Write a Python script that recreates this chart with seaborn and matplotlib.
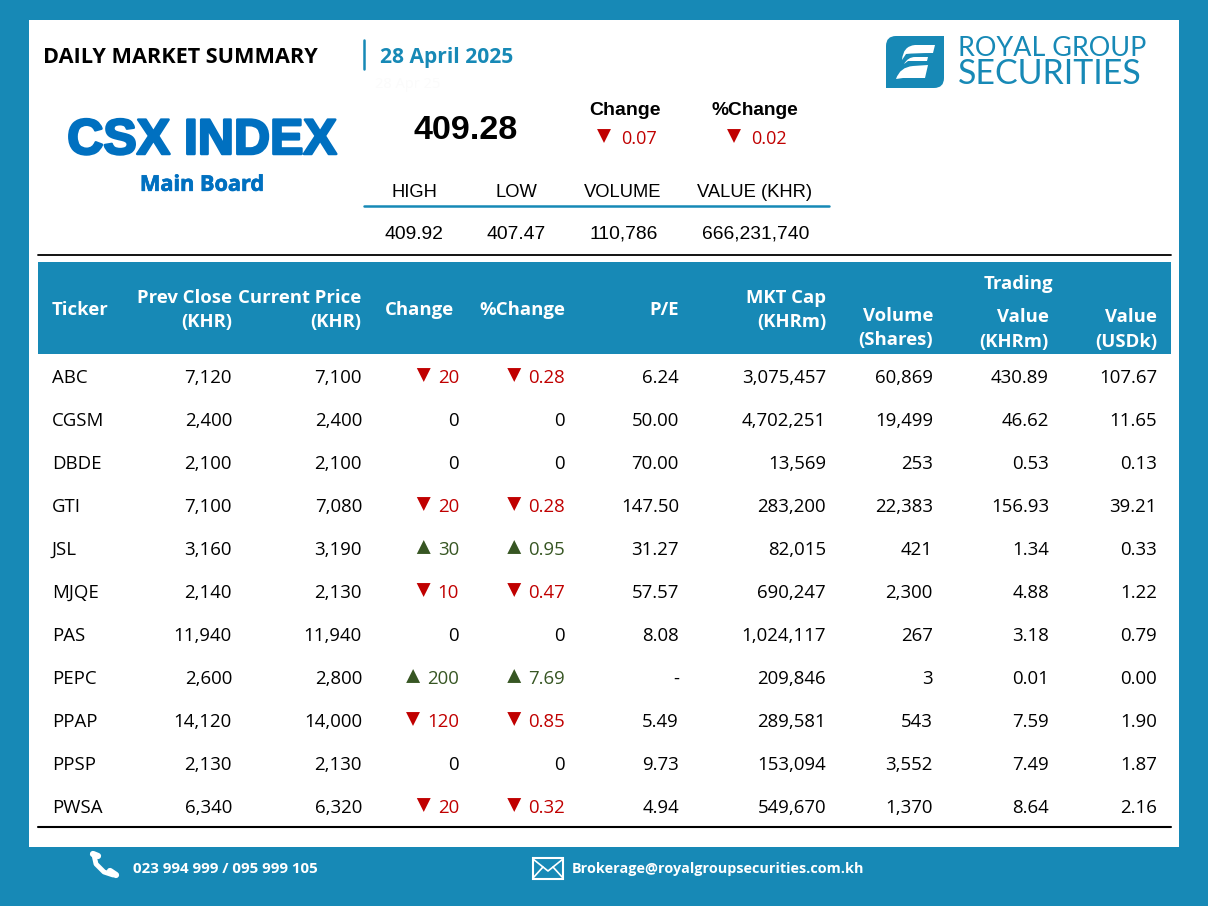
import seaborn as sns
import pandas as pd
import matplotlib.pyplot as plt
import matplotlib.patheffects as pe
from matplotlib.patches import Rectangle, PathPatch
from matplotlib.path import Path

tickers = ["ABC", "CGSM", "DBDE", "GTI", "JSL", "MJQE", "PAS", "PEPC", "PPAP", "PPSP", "PWSA"]
prev_close = ["7,120", "2,400", "2,100", "7,100", "3,160", "2,140", "11,940", "2,600", "14,120", "2,130", "6,340"]
current_price = ["7,100", "2,400", "2,100", "7,080", "3,190", "2,130", "11,940", "2,800", "14,000", "2,130", "6,320"]
change = ["20", "0", "0", "20", "30", "10", "0", "200", "120", "0", "20"]
pct_change = ["0.28", "0", "0", "0.28", "0.95", "0.47", "0", "7.69", "0.85", "0", "0.32"]
direction = ["down", "", "", "down", "up", "down", "", "up", "down", "", "down"]
pe_ratio = ["6.24", "50.00", "70.00", "147.50", "31.27", "57.57", "8.08", "-", "5.49", "9.73", "4.94"]
mkt_cap = ["3,075,457", "4,702,251", "13,569", "283,200", "82,015", "690,247", "1,024,117", "209,846", "289,581", "153,094", "549,670"]
volume = ["60,869", "19,499", "253", "22,383", "421", "2,300", "267", "3", "543", "3,552", "1,370"]
value_khr = ["430.89", "46.62", "0.53", "156.93", "1.34", "4.88", "3.18", "0.01", "7.59", "7.49", "8.64"]
value_usd = ["107.67", "11.65", "0.13", "39.21", "0.33", "1.22", "0.79", "0.00", "1.90", "1.87", "2.16"]

summary_labels = ["HIGH", "LOW", "VOLUME", "VALUE (KHR)"]
summary_values = ["409.92", "407.47", "110,786", "666,231,740"]
index_value = "409.28"
index_change = "0.07"
index_pct = "0.02"

BLUE = "#1789B6"
CSX = "#0070C0"
RED = "#C00000"
GREEN = "#375623"
BODY = "Open Sans"
ARIAL = "Liberation Sans"

sns.set_theme(style="white")
fig = plt.figure(figsize=(12.08, 9.06), dpi=100, facecolor=BLUE)
ax = fig.add_axes([0, 0, 1, 1])
ax.set_xlim(0, 1208)
ax.set_ylim(906, 0)
ax.axis("off")
ax.add_patch(Rectangle((29, 20), 1150, 827, fc="white", ec="none", zorder=0))
ax.add_patch(Rectangle((38, 262), 1133, 92, fc=BLUE, ec="none", zorder=1))


def put(x, y, s, size=13.4, color="black", ha="right", weight="normal", family=BODY, **kw):
    # y is the middle of the capitals, so commas and brackets do not shift a line
    return ax.text(x, y + 0.36 * size * 100 / 72, s, fontsize=size, color=color, ha=ha, va="baseline",
                   fontweight=weight, family=family, zorder=3, **kw)


# title block
put(43, 55, "DAILY MARKET SUMMARY", 15.6, ha="left", weight="bold")
ax.plot([364, 364], [40, 69], color=BLUE, lw=1.8)
put(380, 55, "28 April 2025", 15.1, BLUE, ha="left", weight="bold")
put(375, 83, "28 Apr 25", 10.5, "#FBFBFB", ha="left")
put(202, 136, "CSX INDEX", 36, CSX, ha="center", weight="bold", family=ARIAL,
    path_effects=[pe.withStroke(linewidth=1.8, foreground=CSX)])
put(202, 183, "Main Board", 15.6, CSX, ha="center", weight="bold",
    path_effects=[pe.withStroke(linewidth=0.5, foreground=CSX)])
put(466, 127, index_value, 24.6, ha="center", weight="bold", family=ARIAL)
put(625, 108, "Change", 14, ha="center", weight="bold", family=ARIAL)
put(755, 108, "%Change", 13.8, ha="center", weight="bold", family=ARIAL)
put(657, 137, index_change, 13, RED)
put(787, 137, index_pct, 13, RED)

for cx, lab, val in zip([414, 516, 623, 755], summary_labels, summary_values):
    put(cx, 190, lab, 13.2, ha="center", family=ARIAL)
    put(cx + (1 if lab in ("VOLUME", "VALUE (KHR)") else 0), 232, val, 13.9, ha="center", family=ARIAL)
ax.plot([364, 829], [206, 206], color=BLUE, lw=1.8)
ax.plot([38, 1171], [255, 255], color="black", lw=1.3)
ax.plot([38, 1171], [827, 827], color="black", lw=1.5)

# table header
head = dict(size=13.3, color="white", weight="bold")
put(52, 308, "Ticker", ha="left", **head)
put(232, 296, "Prev Close", **head)
put(232, 320, "(KHR)", **head)
put(361, 296, "Current Price", **head)
put(361, 320, "(KHR)", **head)
put(454, 308, "Change", **head)
put(565, 308, "%Change", **head)
put(679, 308, "P/E", **head)
put(826, 296, "MKT Cap", **head)
put(826, 320, "(KHRm)", **head)
put(1018, 282, "Trading", ha="center", **head)
put(933, 314, "Volume", **head)
put(933, 338, "(Shares)", **head)
put(1049, 315, "Value", **head)
put(1049, 340, "(KHRm)", **head)
put(1157, 315, "Value", **head)
put(1157, 340, "(USDk)", **head)

# table body
row_y = [376 + 43 * i for i in range(len(tickers))]
col_right = {232: prev_close, 362: current_price, 679: pe_ratio, 826: mkt_cap,
             933: volume, 1049: value_khr, 1157: value_usd}
for y, name in zip(row_y, tickers):
    put(52, y, name, ha="left")
for right, col in col_right.items():
    for y, s in zip(row_y, col):
        put(right, y, s)

fig.canvas.draw()
renderer = fig.canvas.get_renderer()
marks = []
for right, col in {459: change, 565: pct_change}.items():
    for y, s, d in zip(row_y, col, direction):
        t = put(right, y, s, color={"down": RED, "up": GREEN}.get(d, "black"))
        if d:
            w = t.get_window_extent(renderer).width
            marks.append({"x": right - w - 14, "y": y - 1, "dir": d, "marker": d})
marks.append({"x": 604, "y": 136, "dir": "down", "marker": "down"})
marks.append({"x": 734, "y": 136, "dir": "down", "marker": "down"})
marks = pd.DataFrame(marks)

sns.scatterplot(data=marks, x="x", y="y", hue="dir", style="marker",
                markers={"down": "v", "up": "^"}, palette={"down": RED, "up": GREEN},
                s=100, linewidth=0, legend=False, ax=ax, zorder=4)
ax.set_xlim(0, 1208)
ax.set_ylim(906, 0)
ax.axis("off")

# logo
M, L, C = Path.MOVETO, Path.LINETO, Path.CURVE3
ax.add_patch(PathPatch(Path([(896, 36), (944, 36), (944, 78), (944, 88), (934, 88), (886, 88), (886, 46), (886, 36), (896, 36)],
                            [M, L, L, C, C, L, L, C, C]), fc=BLUE, ec="none", zorder=2))
ribbons = [
    [(902, 60), (903, 46), (915, 45), (935, 45), (933, 53), (915, 53), (906, 54), (902, 60)],
    [(904, 64), (908, 57), (915, 57), (928, 57), (927, 61), (914, 61), (908, 61), (904, 64)],
    [(896, 79), (900, 67), (913, 66), (928, 65), (925, 78), (912, 78), (903, 78), (896, 79)],
]
codes = [M, C, C, L, L, C, C, L]
for pts in ribbons:
    ax.add_patch(PathPatch(Path(pts, codes), fc="white", ec="none", zorder=3))
put(958, 46, "ROYAL GROUP", 19.4, BLUE, ha="left", family="Lato")
put(958, 72, "SECURITIES", 24.4, BLUE, ha="left", family="Lato")

# footer
ax.plot([94, 96, 104, 113], [855, 864, 872, 875], color="white", lw=3.5, solid_capstyle="round")
ax.plot([93, 98], [854, 856], color="white", lw=4.5, solid_capstyle="round")
ax.plot([110, 116], [871, 875], color="white", lw=4.5, solid_capstyle="round")
put(133, 868, "023 994 999 / 095 999 105", 10.9, "white", ha="left", weight="bold")
ax.add_patch(Rectangle((533, 858), 30, 21, fc="none", ec="white", lw=1.5, zorder=3))
ax.plot([533, 548, 563], [859, 871, 859], color="white", lw=1.2)
ax.plot([533, 543], [878, 867], color="white", lw=1.2)
ax.plot([563, 553], [878, 867], color="white", lw=1.2)
put(572, 868, "Brokerage@royalgroupsecurities.com.kh", 10.4, "white", ha="left", weight="bold")

fig.savefig("out.png", dpi=100, facecolor=BLUE)
